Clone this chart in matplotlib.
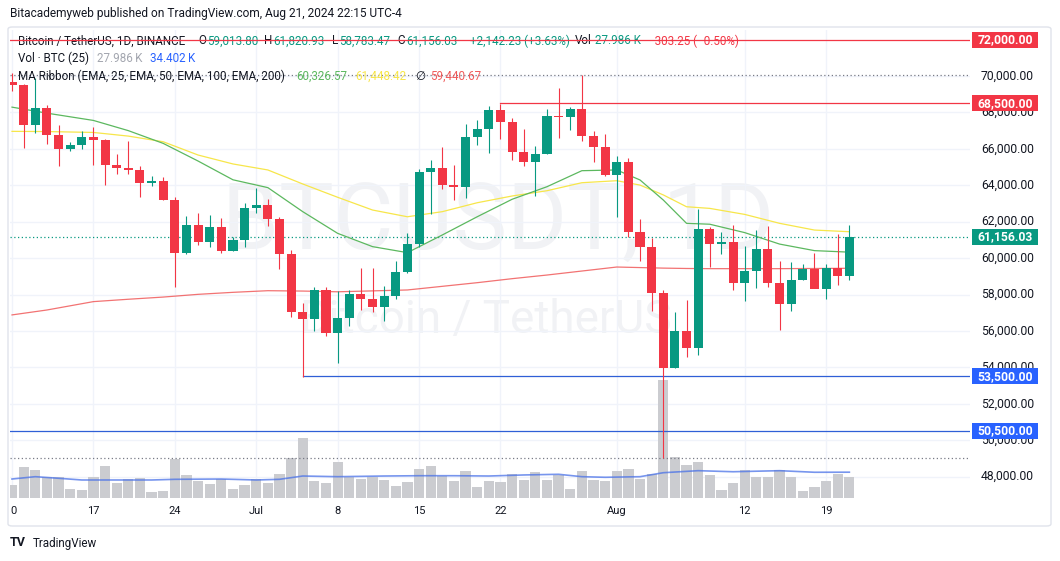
import numpy as np
import pandas as pd
import matplotlib
matplotlib.use('Agg')
import matplotlib.pyplot as plt
from matplotlib import transforms
from matplotlib.patches import Rectangle, FancyBboxPatch

plt.rcParams['font.family'] = ['Roboto', 'DejaVu Sans']

# ---- data (BTCUSDT daily, Jun 10 - Aug 21 2024) ----
dates = pd.date_range('2024-06-10', '2024-08-21', freq='D')

opens = [69650, 69510, 67320, 68240, 66760, 66010, 66190, 66640, 66490, 65140,
         64960, 64830, 64100, 64250, 63180, 60280, 61800, 60860, 61710, 60380,
         60990, 62770, 62900, 62130, 60210, 57030, 56630, 58230, 55860, 56700,
         58010, 57740, 57340, 57900, 59230, 60790, 64720, 64960, 63990, 63900,
         66650, 67080, 68120, 67450, 65850, 65300, 65720, 67820, 67760, 68200,
         66700, 66100, 64560, 65280, 61420, 60620, 58090, 53950, 55980, 55060,
         61600, 60800, 60870, 58640, 59300, 60500, 58630, 57480, 58800, 59420,
         58330, 59480, 59014]
closes = [69510, 67320, 68240, 66760, 66010, 66190, 66640, 66490, 65140, 64960,
          64830, 64100, 64250, 63180, 60280, 61800, 60860, 61710, 60380, 60990,
          62770, 62900, 62130, 60210, 57030, 56630, 58230, 55860, 56700, 58010,
          57740, 57340, 57900, 59230, 60790, 64720, 64960, 63990, 63900, 66650,
          67080, 68120, 67450, 65850, 65300, 65720, 67820, 67760, 68200, 66700,
          66100, 64560, 65280, 61420, 60620, 58090, 53950, 55980, 55060, 61600,
          60800, 60870, 58640, 59300, 60500, 58630, 57480, 58800, 59420, 58330,
          59480, 59014, 61156]
highs = [70190, 69560, 69900, 68420, 67300, 66400, 66960, 67200, 66560, 65700,
         66440, 65070, 64520, 64470, 63330, 62320, 62450, 62350, 62180, 61150,
         63000, 63830, 63240, 62240, 60470, 57510, 58440, 58400, 58200, 58270,
         59430, 59450, 58480, 59830, 61370, 64870, 65390, 66080, 65090, 67380,
         67570, 68350, 68440, 67700, 67070, 66130, 68170, 69330, 68290, 70050,
         66970, 66800, 65600, 65520, 62160, 61100, 58270, 57020, 57690, 62690,
         61700, 61430, 61810, 60690, 61530, 61760, 59850, 59780, 59660, 60270,
         59700, 61350, 61821]
lows = [69170, 66050, 66880, 66250, 65040, 65870, 66000, 65100, 64030, 64620,
        64600, 63360, 63940, 63180, 58390, 60240, 60710, 60600, 60300, 60380,
        60630, 62480, 61770, 59380, 56740, 53450, 55990, 55720, 54240, 56260,
        57130, 57020, 56520, 57770, 59200, 60600, 62400, 63800, 63210, 63290,
        66210, 65770, 66530, 65400, 65060, 63410, 65690, 66620, 67030, 66420,
        65270, 64520, 62270, 61150, 59820, 57090, 49000, 53950, 54550, 54700,
        59510, 60220, 58270, 57620, 58340, 58390, 56030, 57080, 58780, 58380,
        57760, 58530, 58783]
volume_k = [17.3, 41.7, 37.3, 28.4, 27.6, 12.0, 10.7, 28.4, 42.6, 20.4,
            24.9, 26.3, 8.4, 9.3, 52.0, 30.7, 22.7, 18.7, 24.9, 12.0,
            17.3, 25.3, 19.6, 32.0, 52.9, 79.6, 22.7, 20.4, 48.4, 28.4,
            25.7, 28.4, 24.0, 16.0, 21.3, 38.6, 42.6, 29.3, 22.7, 36.0,
            14.7, 22.7, 21.3, 32.0, 24.0, 34.6, 24.0, 30.7, 12.0, 36.0,
            24.0, 22.7, 36.0, 38.6, 25.3, 32.0, 157.3, 54.6, 44.0, 48.0,
            30.7, 10.7, 20.0, 37.3, 28.0, 28.0, 37.3, 28.0, 9.3, 14.7,
            22.7, 32.0, 27.986]

# MA ribbon, read at these day offsets from Jun 10
ema_days = [0, 3, 7, 10, 13, 16, 19, 22, 25, 28, 31, 34, 37, 40, 43, 46, 49,
            52, 54, 56, 58, 60, 63, 66, 69, 72]
ema25 = [68290, 67960, 67560, 67000, 66300, 65330, 64300, 63870, 62550, 61360,
         60630, 60300, 61270, 62270, 63230, 63920, 64800, 64840, 64290, 63190,
         61910, 61860, 61400, 60770, 60410, 60326.57]
ema50 = [66960, 66950, 66900, 66700, 66390, 65660, 65170, 64840, 64070, 63340,
         62640, 62270, 62550, 63040, 63410, 63700, 64140, 64250, 64010, 63470,
         62820, 62730, 62400, 61910, 61540, 61448.42]
ema200 = [56880, 57150, 57610, 57740, 57860, 58010, 58120, 58210, 58190, 58150,
          58200, 58250, 58450, 58650, 58870, 59070, 59290, 59510, 59480, 59450,
          59430, 59420, 59420, 59420, 59430, 59440.67]

volma_days = [0, 2, 4, 6, 9, 12, 14, 18, 21, 23, 25, 28, 32, 35, 38, 41, 44,
              47, 49, 51, 54, 56, 59, 62, 66, 69, 72]
vol_ma = [25.3, 28.4, 26.3, 24.0, 24.0, 24.0, 24.9, 25.3, 24.0, 24.9, 29.3,
          28.4, 29.3, 29.7, 29.7, 29.3, 30.7, 31.6, 28.4, 27.6, 28.4, 33.7,
          36.4, 35.0, 36.4, 34.3, 34.402]

tick_dates = ['2024-06-10', '2024-06-17', '2024-06-24', '2024-07-01', '2024-07-08',
              '2024-07-15', '2024-07-22', '2024-08-01', '2024-08-12', '2024-08-19']
tick_labels = ['0', '17', '24', 'Jul', '8', '15', '22', 'Aug', '12', '19']
axis_prices = [48000, 50000, 52000, 54000, 56000, 58000, 60000, 62000, 64000,
               66000, 68000, 70000]

red_levels = [72000, 68500]
red_level_start = [None, '2024-07-22']
blue_levels = [53500, 50500]
blue_level_start = ['2024-07-05', None]
range_high = 70079
range_low = 49000
last_close = 61156.03

# ---- layout (pixels of the 1060x561 picture) ----
W, H = 1060, 561
PL, PR, PT, PB = 10, 970, 30, 498
PX_PER_K = 18.21                 # pixels per 1000 USD
Y70 = 76                         # pixel row of 70,000
DAY_PX = 11.63
X0 = 12                          # pixel column of the first candle
VOL_PER_PX = 1.3327              # thousand BTC per pixel

GREEN = '#089981'
RED = '#f23645'
BLUE = '#2962ff'
TXT = '#131722'


def price_at(y):
    return 70000 - (y - Y70) / PX_PER_K * 1000


def fx(x):
    return x / W


def fy(y):
    return 1 - y / H


fig = plt.figure(figsize=(W / 100, H / 100), dpi=100)
rect = [fx(PL), fy(PB), (PR - PL) / W, (PB - PT) / H]

ax_vol = fig.add_axes(rect)
ax_vol.set_zorder(1)
ax = fig.add_axes(rect)
ax.set_zorder(2)
ax.patch.set_visible(False)

x = np.arange(len(dates))
xlim = ((PL - X0) / DAY_PX, (PR - X0) / DAY_PX)
for a in (ax, ax_vol):
    a.set_xlim(*xlim)
    a.set_axis_off()
ax.set_ylim(price_at(PB), price_at(PT))
ax_vol.set_ylim(0, (PB - PT) * VOL_PER_PX)

day_of = {d.strftime('%Y-%m-%d'): i for i, d in enumerate(dates)}
tick_x = [day_of[t] for t in tick_dates]

# grid
price_tr = transforms.blended_transform_factory(ax_vol.transAxes, ax.transData)
for p in axis_prices:
    ax_vol.plot([0, 1], [p, p], color='#f0f3fa', lw=1, transform=price_tr, zorder=0.5)
for tx in tick_x:
    ax_vol.axvline(tx, color='#f0f3fa', lw=1, zorder=0.5)

# watermark
ax_vol.text(fx(498), fy(250), 'BTCUSDT, 1D', transform=fig.transFigure, ha='center',
            va='baseline', fontsize=66, color='#f1f2f5', zorder=0.2)
ax_vol.text(fx(486), fy(333), 'Bitcoin / TetherUS', transform=fig.transFigure,
            ha='center', va='baseline', fontsize=33, color='#f1f2f5', zorder=0.2)

# volume
ax_vol.bar(x, volume_k, width=0.88, color='#cbccd0', linewidth=0, zorder=1)
ax_vol.plot(volma_days, vol_ma, color='#4a72e8', lw=1.2, alpha=0.75, zorder=2)

# horizontal levels
for lv, st in zip(red_levels, red_level_start):
    x_start = xlim[0] if st is None else day_of[st]
    ax.plot([x_start, xlim[1]], [lv, lv], color=RED, lw=0.9, zorder=3)
for lv, st in zip(blue_levels, blue_level_start):
    x_start = xlim[0] if st is None else day_of[st]
    ax.plot([x_start, xlim[1]], [lv, lv], color='#2f5fd6', lw=0.9, zorder=3)
ax.axhline(range_high, color='#787b86', lw=0.9, ls=(0, (1, 2)), zorder=1)
ax.axhline(range_low, color='#787b86', lw=0.9, ls=(0, (1, 2)), zorder=1)
ax.axhline(last_close, color=GREEN, lw=0.9, ls=(0, (1, 2)), zorder=1)

# MA ribbon
ax.plot(ema_days, ema200, color='#f05a5a', lw=0.9, alpha=0.85, zorder=2)
ax.plot(ema_days, ema50, color='#f7e64a', lw=0.9, zorder=2)
ax.plot(ema_days, ema25, color='#5cb85f', lw=0.9, zorder=2)

# candles
o = np.array(opens, dtype=float)
c = np.array(closes, dtype=float)
cols = np.where(c >= o, GREEN, RED)
ax.vlines(x, lows, highs, colors=cols, lw=0.8, zorder=4)
ax.bar(x, np.maximum(np.abs(c - o), 60), bottom=np.minimum(o, c), width=0.78,
       color=cols, linewidth=0, zorder=5)

# price axis on the right
right_tr = transforms.blended_transform_factory(ax.transAxes, ax.transData)
ax_w = PR - PL
for p in axis_prices:
    ax.text((1034 - PL) / ax_w, p, '{:,.2f}'.format(p), transform=right_tr,
            ha='right', va='center', fontsize=8.7, color=TXT, clip_on=False)

box_h = 16 / PX_PER_K * 1000
boxes = [(72000, RED), (68500, RED), (61156.03, GREEN), (53500, BLUE), (50500, BLUE)]
for p, col in boxes:
    ax.add_patch(Rectangle(((972 - PL) / ax_w, p - box_h / 2), 66 / ax_w, box_h,
                           transform=right_tr, facecolor=col, edgecolor='none',
                           clip_on=False, zorder=6))
    ax.text((1005 - PL) / ax_w, p, '{:,.2f}'.format(p), transform=right_tr,
            ha='center', va='center', fontsize=8.7, color='white', fontweight='bold',
            clip_on=False, zorder=7)

# date axis
date_tr = transforms.blended_transform_factory(ax.transData, ax.transAxes)
for tx, lab in zip(tick_x, tick_labels):
    xx = tx if lab != '0' else tx + 0.15
    ax.text(xx, (PB - 511) / (PB - PT), lab, transform=date_tr, ha='center',
            va='center', fontsize=8, color=TXT, clip_on=False)

# chart frame
fig.patches.append(FancyBboxPatch((fx(8), fy(526)), fx(1043), (526 - 27) / H,
                                  boxstyle='round,pad=0,rounding_size=0.004',
                                  transform=fig.transFigure, facecolor='none',
                                  edgecolor='#e0e3eb', lw=1, zorder=0))

# header and legends
fig.text(fx(10), fy(14), 'Bitacademyweb published on TradingView.com, Aug 21, 2024 22:15 UTC-4',
         fontsize=8.6, color=TXT, va='center')

row1 = [(18, 'Bitcoin / TetherUS, 1D, BINANCE', TXT),
        (198, 'O', TXT), (207, '59,013.80', GREEN),
        (264, 'H', TXT), (273, '61,820.93', GREEN),
        (332, 'L', TXT), (339, '58,783.47', GREEN),
        (397, 'C', TXT), (406, '61,156.03', GREEN),
        (470, '+2,142.23 (+3.63%)', GREEN),
        (575, 'Vol', TXT), (595, '27.986 K', GREEN),
        (648, '\u2212303.25 (\u22120.50%)', RED)]
for px, s, col in row1:
    fig.text(fx(px), fy(41), s, fontsize=8.4, color=col, va='center', zorder=1)

row2 = [(18, 'Vol \u00b7 BTC (25)', TXT), (97, '27.986\u2009K', '#a3a6af'),
        (150, '34.402\u2009K', BLUE)]
for px, s, col in row2:
    fig.text(fx(px), fy(58), s, fontsize=8.4, color=col, va='center',
             family=['Roboto', 'DejaVu Sans'])

row3 = [(18, 'MA Ribbon (EMA, 25, EMA, 50, EMA, 100, EMA, 200)', TXT),
        (296, '60,326.57', '#5cb85f'), (355, '61,448.42', '#f7e64a'),
        (415, '\u2205', TXT), (430, '59,440.67', '#f05a5a')]
for px, s, col in row3:
    fig.text(fx(px), fy(76), s, fontsize=8.4, color=col, va='center')

# footer logo
fig.text(fx(10), fy(543), 'TV', fontsize=9, fontweight='bold', color=TXT, va='center')
fig.text(fx(33), fy(543), 'TradingView', fontsize=8.4, color=TXT, va='center')

fig.savefig('out.png', dpi=100, facecolor='white')
